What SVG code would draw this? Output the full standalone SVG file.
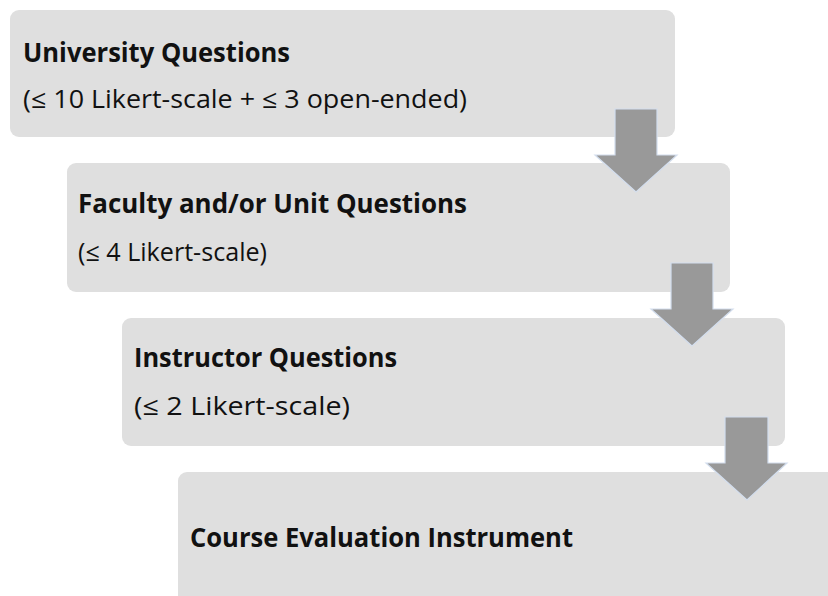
<svg xmlns="http://www.w3.org/2000/svg" width="828" height="596" viewBox="0 0 828 596">
<style>
.box{fill:#dfdfdf;}
.arrow{fill:#999999;stroke:#d3deee;stroke-width:1.2;}
.t{font-family:"Open Sans","Liberation Sans",sans-serif;font-weight:bold;font-size:26px;fill:#111;}
.s{font-family:"Open Sans","Liberation Sans",sans-serif;font-size:25px;fill:#111;}
</style>
<rect x="0" y="0" width="828" height="596" fill="#ffffff"/>
<g id="node1">
<rect class="box" x="10" y="10" width="665" height="127" rx="9"/>
<text class="t" x="23" y="62" textLength="267" lengthAdjust="spacingAndGlyphs">University Questions</text>
<text class="s" x="23" y="108" textLength="444" lengthAdjust="spacingAndGlyphs">(≤ 10 Likert-scale + ≤ 3 open-ended)</text>
</g>
<g id="node2">
<rect class="box" x="67" y="163" width="663" height="129" rx="9"/>
<text class="t" x="78" y="213" textLength="389" lengthAdjust="spacingAndGlyphs">Faculty and/or Unit Questions</text>
<text class="s" x="78" y="261" textLength="189" lengthAdjust="spacingAndGlyphs">(≤ 4 Likert-scale)</text>
</g>
<g id="node3">
<rect class="box" x="122" y="318" width="663" height="128" rx="9"/>
<text class="t" x="134" y="367" textLength="263" lengthAdjust="spacingAndGlyphs">Instructor Questions</text>
<text class="s" x="134" y="415" textLength="216" lengthAdjust="spacingAndGlyphs">(≤ 2 Likert-scale)</text>
</g>
<g id="node4">
<rect class="box" x="178" y="472" width="670" height="140" rx="9"/>
<text class="t" x="190" y="547" textLength="383" lengthAdjust="spacingAndGlyphs">Course Evaluation Instrument</text>
</g>
<g id="connectors">
<polygon class="arrow" points="615,109 657,109 657,155 677,155 636,192 595,155 615,155"/>
<polygon class="arrow" points="671,263 713,263 713,309 733,309 692,346 651,309 671,309"/>
<polygon class="arrow" points="725,417 768,417 768,463 787,463 747,500 706,463 725,463"/>
</g>
</svg>
